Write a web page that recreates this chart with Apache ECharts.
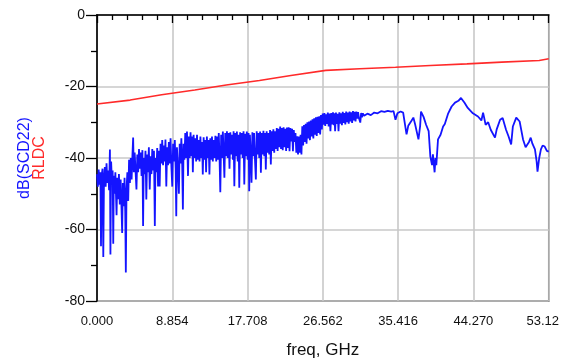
<!DOCTYPE html>
<html>
<head>
<meta charset="utf-8">
<title>dB(SCD22) vs RLDC</title>
<script src="https://cdn.jsdelivr.net/npm/echarts/dist/echarts.min.js"></script>
<style>
  html, body { margin: 0; padding: 0; background: #fff; }
  #chart { width: 562px; height: 364px; }
</style>
</head>
<body>
<div id="chart"></div>
<script>
// Frequency axis tick labels (GHz) and dB axis tick labels
const freqTicks = ['0.000', '8.854', '17.708', '26.562', '35.416', '44.270', '53.12'];
const FREQ_STEP = 8.854;
const FREQ_MAX = 53.12;
const dbTicks = [-80, -60, -40, -20, 0];

// RLDC limit line: [freq GHz, dB]
const rldc = [
  [0, -24.9], [3.9, -23.8], [7.6, -22.3], [11.5, -21.0], [15.2, -19.6], [19.1, -18.3],
  [22.8, -16.9], [26.9, -15.5], [27.1, -15.05], [30.9, -15.05], [31.1, -14.6], [35.1, -14.6],
  [35.3, -14.13], [39.2, -14.13], [39.4, -13.66], [43.5, -13.66], [43.7, -13.18], [47.6, -13.18],
  [47.8, -12.74], [52.0, -12.74], [52.2, -12.26], [53.12, -12.26]
];

// Measured dB(SCD22) trace: [freq GHz, dB]
const scd22 = [
  [0.00, -44.5], [0.10, -48.0], [0.20, -43.2], [0.30, -47.5], [0.40, -44.0], [0.47, -64.7],
  [0.55, -45.0], [0.65, -43.0], [0.74, -67.7], [0.82, -46.0], [0.92, -42.5], [1.02, -48.0],
  [1.12, -41.5], [1.22, -47.0], [1.32, -43.5], [1.42, -49.0], [1.52, -37.6], [1.58, -67.0],
  [1.66, -41.0], [1.76, -47.0], [1.84, -43.5], [1.91, -64.0], [1.98, -45.0], [2.08, -50.0],
  [2.16, -44.0], [2.30, -56.0], [2.38, -45.5], [2.48, -51.5], [2.58, -44.5], [2.68, -53.0],
  [2.78, -46.0], [2.88, -54.0], [2.96, -61.0], [3.04, -47.0], [3.14, -53.5], [3.24, -45.5],
  [3.32, -55.0], [3.39, -72.0], [3.47, -49.0], [3.57, -44.0], [3.67, -52.0], [3.77, -40.5],
  [3.87, -47.0], [3.97, -40.0], [4.07, -46.0], [4.17, -39.0], [4.25, -34.3], [4.33, -44.0],
  [4.43, -38.5], [4.53, -43.5], [4.64, -48.8], [4.74, -39.0], [4.84, -44.0], [4.94, -37.5],
  [5.04, -43.0], [5.14, -38.5], [5.24, -45.0], [5.34, -37.8], [5.42, -59.0], [5.50, -40.0],
  [5.60, -44.5], [5.70, -38.0], [5.80, -51.6], [5.90, -39.0], [6.00, -44.0], [6.10, -37.0],
  [6.20, -48.8], [6.30, -39.5], [6.40, -44.5], [6.50, -37.5], [6.60, -43.5], [6.70, -38.0],
  [6.80, -59.0], [6.88, -40.0], [6.98, -44.0], [7.08, -37.2], [7.18, -48.0], [7.28, -38.0],
  [7.37, -48.0], [7.47, -36.0], [7.57, -41.5], [7.67, -35.0], [7.77, -42.0], [7.87, -36.5],
  [7.97, -41.0], [8.05, -34.8], [8.15, -48.0], [8.25, -37.0], [8.35, -42.0], [8.45, -35.5],
  [8.55, -41.5], [8.65, -34.5], [8.75, -42.5], [8.85, -48.0], [8.95, -36.0], [9.05, -41.0],
  [9.15, -35.0], [9.25, -43.0], [9.32, -56.3], [9.40, -37.0], [9.50, -42.0], [9.63, -50.0],
  [9.72, -36.0], [9.82, -41.5], [9.92, -34.5], [10.02, -42.0], [10.10, -54.4], [10.18, -36.0],
  [10.28, -40.5], [10.38, -33.0], [10.48, -40.0], [10.58, -32.6], [10.70, -45.0], [10.80, -34.0],
  [10.90, -40.0], [11.00, -32.8], [11.10, -39.5], [11.20, -34.0], [11.27, -44.0], [11.36, -33.5],
  [11.46, -40.0], [11.56, -34.5], [11.66, -41.0], [11.76, -33.5], [11.86, -40.5], [11.96, -35.0],
  [12.06, -41.0], [12.16, -34.0], [12.26, -40.0], [12.36, -35.5], [12.44, -44.6], [12.54, -34.2],
  [12.64, -40.5], [12.74, -35.0], [12.83, -44.0], [12.92, -34.0], [13.02, -40.0], [13.12, -35.0],
  [13.22, -44.6], [13.32, -34.5], [13.42, -40.5], [13.52, -34.0], [13.62, -41.0], [13.72, -35.0],
  [13.82, -40.0], [13.92, -33.8], [14.02, -41.0], [14.12, -34.0], [14.22, -40.5], [14.32, -33.0],
  [14.42, -41.0], [14.50, -49.6], [14.60, -33.5], [14.70, -40.0], [14.80, -32.6], [14.90, -39.5],
  [14.98, -45.5], [15.08, -33.0], [15.18, -39.5], [15.28, -32.5], [15.38, -40.0], [15.48, -33.0],
  [15.58, -43.0], [15.68, -32.8], [15.78, -39.0], [15.88, -33.5], [15.98, -40.5], [16.06, -32.5],
  [16.15, -47.9], [16.25, -33.0], [16.35, -39.5], [16.45, -32.6], [16.55, -41.0], [16.65, -33.5],
  [16.73, -48.3], [16.83, -32.8], [16.93, -39.0], [17.03, -33.0], [17.13, -40.0], [17.23, -32.5],
  [17.32, -47.4], [17.42, -33.2], [17.52, -39.5], [17.62, -32.6], [17.72, -40.5], [17.82, -33.0],
  [17.90, -49.3], [17.98, -33.5], [18.08, -39.0], [18.17, -46.9], [18.27, -32.8], [18.37, -39.5],
  [18.47, -33.0], [18.57, -40.0], [18.68, -46.0], [18.78, -32.5], [18.88, -39.0], [18.98, -33.0],
  [19.08, -40.0], [19.18, -32.6], [19.27, -44.1], [19.37, -33.0], [19.47, -39.0], [19.57, -32.4],
  [19.67, -39.5], [19.77, -33.0], [19.85, -43.2], [19.95, -32.5], [20.05, -38.5], [20.15, -33.0],
  [20.25, -39.0], [20.35, -32.2], [20.44, -41.8], [20.54, -32.5], [20.64, -38.0], [20.74, -32.0],
  [20.84, -38.5], [20.94, -32.5], [21.04, -37.5], [21.14, -31.6], [21.24, -38.0], [21.34, -31.8],
  [21.44, -37.0], [21.54, -31.2], [21.64, -37.5], [21.74, -31.6], [21.84, -37.8], [21.94, -31.4],
  [22.04, -37.0], [22.14, -31.8], [22.24, -38.0], [22.34, -31.5], [22.44, -37.2], [22.54, -31.4],
  [22.64, -38.1], [22.74, -31.6], [22.84, -35.4], [22.94, -31.8], [23.04, -38.1], [23.14, -32.2],
  [23.24, -35.5], [23.34, -33.0], [23.44, -38.5], [23.54, -33.9], [23.64, -39.0], [23.74, -34.0],
  [23.84, -38.5], [23.94, -33.5], [24.04, -39.0], [24.14, -31.1], [24.24, -36.5], [24.34, -30.8],
  [24.44, -35.5], [24.54, -30.4], [24.64, -36.0], [24.74, -30.0], [24.84, -34.5], [24.94, -29.8],
  [25.04, -35.0], [25.14, -29.5], [25.24, -34.0], [25.34, -29.2], [25.44, -34.5], [25.54, -28.9],
  [25.64, -33.5], [25.74, -28.6], [25.84, -33.8], [25.94, -28.5], [26.04, -33.0], [26.14, -28.3],
  [26.24, -33.4], [26.34, -28.0], [26.44, -32.0], [26.54, -27.6], [26.64, -30.7], [26.74, -27.4],
  [26.84, -31.0], [26.94, -27.8], [27.04, -30.5], [27.14, -27.3], [27.24, -31.2], [27.34, -27.6],
  [27.45, -32.5], [27.55, -27.4], [27.65, -30.6], [27.75, -27.2], [27.85, -30.8], [27.92, -27.5],
  [28.00, -32.5], [28.10, -27.3], [28.20, -30.5], [28.30, -27.6], [28.40, -32.5], [28.50, -27.2],
  [28.60, -30.4], [28.70, -27.5], [28.80, -30.8], [28.90, -27.1], [29.00, -30.2], [29.10, -27.4],
  [29.20, -30.6], [29.30, -27.0], [29.40, -30.0], [29.50, -27.3], [29.60, -30.4], [29.70, -27.0],
  [29.80, -29.8], [29.90, -27.2], [30.00, -30.2], [30.10, -26.9], [30.20, -29.5], [30.30, -27.1],
  [30.40, -29.8], [30.50, -27.0], [30.60, -29.0], [30.70, -27.2], [30.80, -28.8], [30.96, -30.1],
  [31.06, -27.4], [31.16, -28.6], [31.26, -27.5], [31.40, -28.2], [31.80, -27.6], [32.20, -28.0],
  [32.60, -27.3], [33.00, -27.5], [33.40, -26.9], [33.80, -27.1], [34.20, -26.8], [34.60, -27.0],
  [34.87, -26.9], [35.10, -29.3], [35.33, -27.5], [35.70, -27.0], [36.00, -27.3], [36.40, -33.4],
  [36.60, -31.0], [37.00, -29.5], [37.20, -28.7], [37.40, -30.5], [37.80, -34.8], [38.00, -31.0],
  [38.10, -27.0], [38.40, -28.5], [38.70, -30.7], [39.00, -32.5], [39.20, -39.6], [39.40, -42.0],
  [39.50, -39.0], [39.70, -44.0], [39.80, -40.0], [39.90, -42.0], [40.10, -34.8], [40.40, -33.5],
  [40.70, -31.2], [40.90, -30.5], [41.30, -27.5], [41.70, -25.6], [42.10, -24.5], [42.50, -24.0],
  [42.80, -23.2], [43.20, -24.5], [43.60, -26.0], [44.20, -27.5], [44.80, -28.4], [45.20, -29.5],
  [45.40, -27.3], [45.70, -30.7], [46.00, -30.0], [46.30, -32.1], [46.80, -34.3], [47.00, -32.0],
  [47.40, -29.3], [47.70, -28.8], [48.10, -32.1], [48.40, -34.0], [48.70, -36.2], [48.90, -31.2],
  [49.30, -28.7], [49.50, -29.0], [49.70, -29.8], [50.10, -34.8], [50.40, -37.0], [50.80, -35.5],
  [51.00, -34.3], [51.20, -36.0], [51.50, -37.6], [51.70, -41.0], [51.80, -43.8], [52.00, -40.0],
  [52.20, -37.6], [52.40, -36.5], [52.65, -36.8], [52.90, -38.0], [53.12, -38.2]
];

const BLUE = '#1414ff';
const RED = '#ff2a2a';
const FONT = '"Liberation Sans", Arial, sans-serif';

const chart = echarts.init(document.getElementById('chart'), null, { renderer: 'canvas' });

chart.setOption({
  animation: false,
  backgroundColor: '#ffffff',
  grid: {
    left: 97, right: 11, top: 15, bottom: 62,
    show: true, borderColor: '#2a2a2a', borderWidth: 1.5, backgroundColor: 'transparent'
  },
  xAxis: {
    type: 'value',
    min: 0, max: FREQ_MAX, interval: FREQ_STEP,
    name: 'freq, GHz',
    nameLocation: 'middle',
    nameGap: 41,
    nameTextStyle: { color: '#111', fontFamily: FONT, fontSize: 17 },
    axisLine: { show: true, lineStyle: { color: '#000', width: 1.6 } },
    axisTick: { show: true, length: 8, lineStyle: { color: '#000', width: 1.3 } },
    minorTick: { show: true, splitNumber: 5, length: 5, lineStyle: { color: '#000', width: 1.3 } },
    splitLine: { show: true, lineStyle: { color: '#c8c8c8', width: 1.6 } },
    axisLabel: {
      margin: 14,
      color: '#111', fontFamily: FONT, fontSize: 13,
      showMaxLabel: true,
      formatter: function (v) {
        const i = Math.round(v / FREQ_STEP);
        const t = freqTicks[i] !== undefined ? freqTicks[i] : '';
        return i === freqTicks.length - 1 ? '{end|' + t + '}' : t;
      },
      rich: { end: { color: '#111', fontFamily: FONT, fontSize: 13, padding: [0, 12, 0, 0] } }
    }
  },
  yAxis: {
    type: 'value',
    min: dbTicks[0], max: dbTicks[dbTicks.length - 1], interval: 20,
    name: '{a|dB(SCD22)}\n{b|RLDC}',
    nameLocation: 'middle',
    nameRotate: 90,
    nameGap: 50,
    nameTextStyle: {
      rich: {
        a: { color: BLUE, fontFamily: FONT, fontSize: 16, lineHeight: 15 },
        b: { color: RED, fontFamily: FONT, fontSize: 16, lineHeight: 15 }
      }
    },
    axisLine: { show: true, lineStyle: { color: '#000', width: 1.6 } },
    axisTick: { show: true, length: 11, lineStyle: { color: '#000', width: 1.3 } },
    minorTick: { show: true, splitNumber: 2, length: 6, lineStyle: { color: '#000', width: 1.3 } },
    splitLine: { show: true, lineStyle: { color: '#c8c8c8', width: 1.6 } },
    axisLabel: {
      margin: 12,
      color: '#111', fontFamily: FONT, fontSize: 14,
      formatter: function (v) { return String(v); }
    }
  },
  series: [
    {
      name: 'RLDC',
      type: 'line',
      data: rldc,
      showSymbol: false,
      lineStyle: { color: RED, width: 1.6 },
      z: 3
    },
    {
      name: 'dB(SCD22)',
      type: 'line',
      data: scd22,
      showSymbol: false,
      sampling: 'none',
      lineStyle: { color: BLUE, width: 1.8 },
      z: 4
    }
  ]
});
</script>
</body>
</html>
